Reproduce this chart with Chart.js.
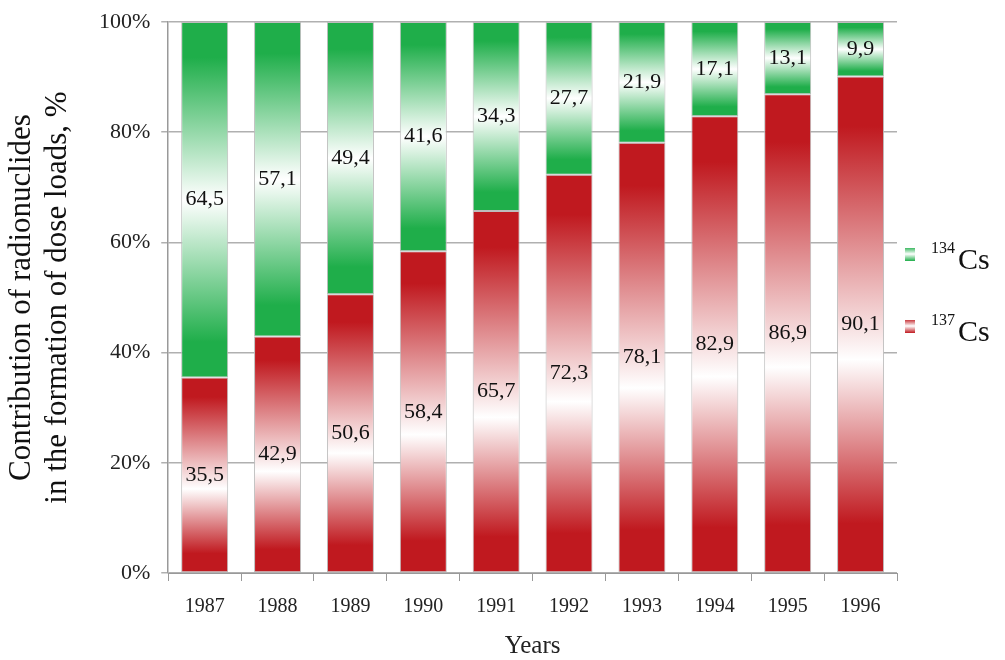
<!DOCTYPE html>
<html>
<head>
<meta charset="utf-8">
<script src="https://cdn.jsdelivr.net/npm/chart.js@4.4.0/dist/chart.umd.min.js"></script>
<style>
  body { margin: 0; background: #fff; }
  #wrap { width: 1005px; height: 660px; }
</style>
</head>
<body>
<div id="wrap"><canvas id="barChart"></canvas></div>
<script>
var years = ["1987", "1988", "1989", "1990", "1991", "1992", "1993", "1994", "1995", "1996"];
var cs137 = [35.5, 42.9, 50.6, 58.4, 65.7, 72.3, 78.1, 82.9, 86.9, 90.1];
var cs134 = [64.5, 57.1, 49.4, 41.6, 34.3, 27.7, 21.9, 17.1, 13.1, 9.9];
var isotopes = ["137", "134"];

var RED = "#c0191f";
var GREEN = "#1fae4a";
var SERIF = '"Liberation Serif", "Times New Roman", serif';

// vertical gradient per segment: dark at both ends, white in the middle
function stripe(dark, below, whiteAt) {
  return function(ctx) {
    var chart = ctx.chart;
    var y = chart.scales.y;
    if (!chart.chartArea || !y) return dark;
    var i = ctx.dataIndex;
    var from = below ? below[i] : 0;
    var to = from + ctx.dataset.data[i];
    var g = chart.ctx.createLinearGradient(0, y.getPixelForValue(to), 0, y.getPixelForValue(from));
    g.addColorStop(0, dark);
    g.addColorStop(0.1, dark);
    g.addColorStop(whiteAt, "#ffffff");
    g.addColorStop(0.9, dark);
    g.addColorStop(1, dark);
    return g;
  };
}

var valueLabels = {
  id: "valueLabels",
  afterDatasetsDraw: function(chart) {
    var c = chart.ctx;
    c.save();
    c.font = "22px " + SERIF;
    c.fillStyle = "#111";
    c.textAlign = "center";
    c.textBaseline = "middle";
    chart.data.datasets.forEach(function(ds, di) {
      chart.getDatasetMeta(di).data.forEach(function(bar, i) {
        c.fillText(ds.data[i].toFixed(1).replace(".", ","), bar.x, (bar.y + bar.base) / 2);
      });
    });
    c.restore();
  }
};

var sideLegend = {
  id: "sideLegend",
  afterDraw: function(chart) {
    var c = chart.ctx;
    var items = [
      { sup: isotopes[1], color: GREEN, y: 254 },
      { sup: isotopes[0], color: RED, y: 326 }
    ];
    c.save();
    items.forEach(function(it) {
      var g = c.createLinearGradient(0, it.y - 7, 0, it.y + 7);
      g.addColorStop(0, it.color);
      g.addColorStop(0.5, "#ffffff");
      g.addColorStop(1, it.color);
      c.fillStyle = g;
      c.fillRect(905, it.y - 6, 10, 13);
      c.fillStyle = "#111";
      c.textBaseline = "alphabetic";
      c.textAlign = "left";
      c.font = "16px " + SERIF;
      c.fillText(it.sup, 931, it.y - 1);
      c.font = "30px " + SERIF;
      c.fillText("Cs", 958, it.y + 15);
    });
    c.restore();
  }
};

var ctx = document.getElementById("barChart").getContext("2d");
var chart = new Chart(ctx, {
  type: "bar",
  data: {
    labels: years,
    datasets: [{
      label: isotopes[0] + "Cs",
      data: cs137,
      backgroundColor: stripe(RED, null, 0.57)
    }, {
      label: isotopes[1] + "Cs",
      data: cs134,
      backgroundColor: stripe(GREEN, cs137, 0.5)
    }]
  },
  options: {
    responsive: true,
    maintainAspectRatio: false,
    animation: false,
    layout: { padding: { top: 16, right: 108, left: 4, bottom: 0 } },
    datasets: {
      bar: {
        categoryPercentage: 1,
        barPercentage: 0.645,
        borderWidth: 1,
        borderColor: "#bdbdbd",
        borderSkipped: false
      }
    },
    plugins: {
      legend: { display: false },
      tooltip: { enabled: false }
    },
    scales: {
      x: {
        stacked: true,
        grid: { offset: true, drawOnChartArea: false, color: "#999", tickLength: 8 },
        border: { color: "#999" },
        ticks: { color: "#222", padding: 15, font: { family: SERIF, size: 20, lineHeight: 1.1 } },
        title: { display: true, text: "Years", color: "#222", padding: 0, font: { family: SERIF, size: 25, lineHeight: 1.08 } }
      },
      y: {
        stacked: true,
        min: 0,
        max: 100,
        ticks: {
          stepSize: 20,
          color: "#222",
          padding: 11,
          font: { family: SERIF, size: 22, lineHeight: 1 },
          callback: function(v) { return v + "%"; }
        },
        grid: { color: "#b0b0b0", lineWidth: 1.5, tickLength: 7 },
        border: { color: "#999", width: 1.5 },
        title: {
          display: true,
          text: ["Contribution of radionuclides", "in the formation of dose loads, %"],
          color: "#111",
          padding: { top: 0, bottom: 12 },
          font: { family: SERIF, size: 31, lineHeight: 1.16 }
        }
      }
    }
  },
  plugins: [valueLabels, sideLegend]
});
</script>
</body>
</html>
